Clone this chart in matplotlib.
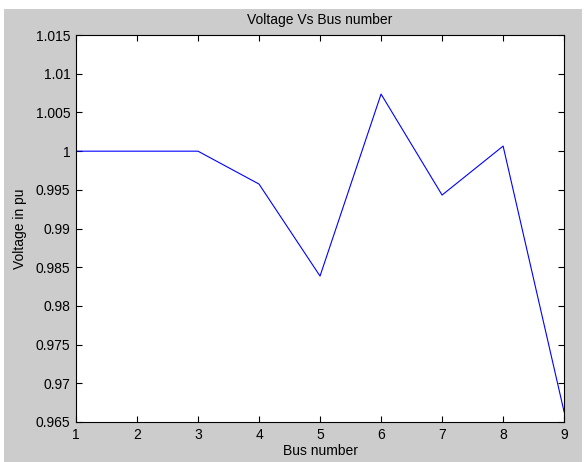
import matplotlib
matplotlib.use('Agg')
import matplotlib.pyplot as plt
from matplotlib.patches import Rectangle

bus = [1, 2, 3, 4, 5, 6, 7, 8, 9]
voltage = [1.0, 1.0, 1.0, 0.99575, 0.98386, 1.00738, 0.99433, 1.00066, 0.96629]
yticks = [0.965, 0.97, 0.975, 0.98, 0.985, 0.99, 0.995, 1.0, 1.005, 1.01, 1.015]
ytick_labels = ['0.965', '0.97', '0.975', '0.98', '0.985', '0.99', '0.995', '1', '1.005', '1.01', '1.015']

plt.rcParams['font.family'] = ['Liberation Sans', 'DejaVu Sans']
plt.rcParams['font.size'] = 10

fig = plt.figure(figsize=(5.84, 4.62), dpi=100, facecolor='white')
# gray window area (screenshot leaves thin white strips at top/left/right)
fig.patches.append(Rectangle((4 / 584, 0), 578 / 584, 453 / 462,
                             transform=fig.transFigure, facecolor='#cccccc',
                             edgecolor='none', zorder=-1))

ax = fig.add_axes([0.130, 0.0866, 0.836, 0.8374])
ax.plot(bus, voltage, color='blue', linewidth=0.8)

ax.set_xlim(1, 9)
ax.set_ylim(0.965, 1.015)
ax.set_xticks(bus)
ax.set_yticks(yticks)
ax.set_yticklabels(ytick_labels)
ax.tick_params(direction='in', top=True, right=True, length=4, width=0.8, pad=4)
for s in ax.spines.values():
    s.set_linewidth(0.8)

ax.set_title('Voltage Vs Bus number', fontsize=10, pad=8)
ax.set_xlabel('Bus number', labelpad=2)
ax.set_ylabel('Voltage in pu', labelpad=6)

fig.savefig('out.png', dpi=100, facecolor=fig.get_facecolor())
